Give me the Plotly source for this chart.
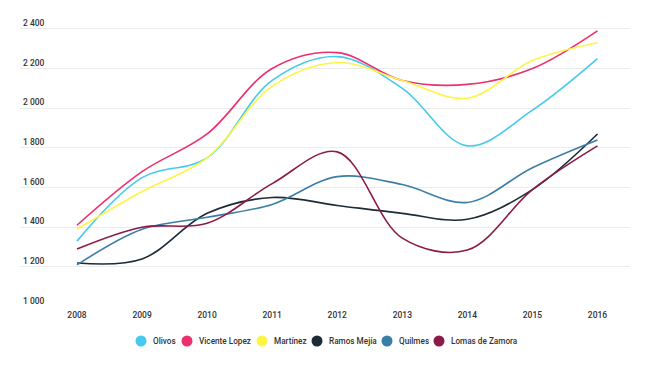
import plotly.graph_objects as go

years = [2008, 2009, 2010, 2011, 2012, 2013, 2014, 2015, 2016]

olivos = [1330, 1650, 1750, 2140, 2260, 2100, 1810, 1990, 2250]
vicente_lopez = [1410, 1680, 1870, 2200, 2280, 2140, 2120, 2200, 2390]
martinez = [1390, 1580, 1750, 2110, 2230, 2140, 2050, 2240, 2330]
ramos_mejia = [1220, 1240, 1470, 1550, 1510, 1470, 1440, 1590, 1870]
quilmes = [1210, 1390, 1450, 1515, 1655, 1615, 1525, 1700, 1840]
lomas_de_zamora = [1290, 1400, 1420, 1620, 1780, 1345, 1285, 1590, 1810]

series_names = ["Olivos", "Vicente Lopez", "Martínez", "Ramos Mejía", "Quilmes", "Lomas de Zamora"]
series_values = [olivos, vicente_lopez, martinez, ramos_mejia, quilmes, lomas_de_zamora]
colors = ["#45c9ec", "#ec2f6e", "#fdf446", "#1d2b38", "#3a7ea5", "#8c1a48"]

y_ticks = [1000, 1200, 1400, 1600, 1800, 2000, 2200, 2400]

# layout constants (pixels); page body has an 8px default margin
OFF = 8
W, H = 656 - OFF, 369 - OFF
ML, MR, MT, MB = 20 - OFF, 26, 1, 62
PW, PH = W - ML - MR, H - MT - MB
legend_marker_px = [141, 187, 262, 317, 387, 439]
legend_y_px = 341

fig = go.Figure()
for name, vals, col in zip(series_names, series_values, colors):
    fig.add_trace(go.Scatter(
        x=years, y=vals, mode="lines", name=name,
        line=dict(color=col, width=1.6, shape="spline", smoothing=1.0),
        showlegend=False, hoverinfo="skip",
    ))

shapes = []
annotations = []
ly = (H - MB - (legend_y_px - OFF)) / PH
for name, col, px in zip(series_names, colors, legend_marker_px):
    lx = (px - OFF - ML) / PW
    shapes.append(dict(
        type="circle", xref="paper", yref="paper", xsizemode="pixel", ysizemode="pixel",
        xanchor=lx, yanchor=ly, x0=-5.5, x1=5.5, y0=-5.5, y1=5.5,
        fillcolor=col, line=dict(width=0),
    ))
    annotations.append(dict(
        xref="paper", yref="paper", x=(px - OFF + 10 - ML) / PW, y=ly,
        xanchor="left", yanchor="middle", text=name, showarrow=False,
        font=dict(size=8.2, color="#333333", family="Roboto, sans-serif", weight=500),
    ))

fig.update_layout(
    width=W, height=H,
    margin=dict(l=ML, r=MR, t=MT, b=MB, autoexpand=False),
    paper_bgcolor="white", plot_bgcolor="white",
    separators=". ",
    font=dict(family="Roboto, Noto Sans, sans-serif", color="#333333", size=8.5),
    showlegend=False,
    shapes=shapes,
    annotations=annotations,
    xaxis=dict(
        range=[2007.124, 2016.5], tickmode="array", tickvals=years,
        ticktext=[str(y) for y in years], showgrid=False, zeroline=False,
        showline=False, ticks="", tickfont=dict(size=8.5, color="#333333", weight=500),
        ticklabelstandoff=1, fixedrange=True,
    ),
    yaxis=dict(
        range=[998, 2500], tickmode="array", tickvals=y_ticks, tickformat=",d",
        showgrid=True, gridcolor="#ececec", gridwidth=1, zeroline=False,
        showline=False, ticks="", ticklabelposition="inside top",
        tickfont=dict(size=8.5, color="#333333", weight=500), fixedrange=True,
    ),
)

fig.write_html("out.html")
